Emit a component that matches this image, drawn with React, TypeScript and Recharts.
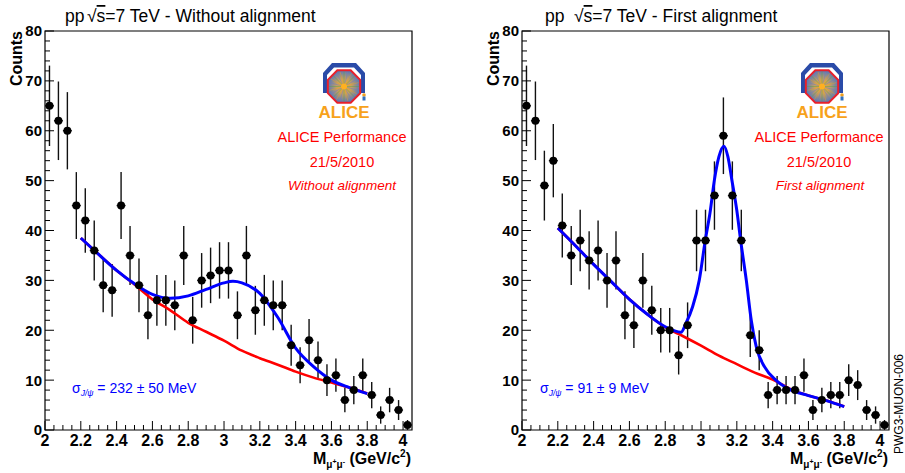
import React from 'react';
import { ComposedChart, Scatter, Line, XAxis, YAxis, ErrorBar, ReferenceArea } from 'recharts';

// bin centres of the dimuon invariant mass histogram (GeV/c^2), 50 MeV bins
const massBins = [
  2.025, 2.075, 2.125, 2.175, 2.225, 2.275, 2.325, 2.375, 2.425, 2.475,
  2.525, 2.575, 2.625, 2.675, 2.725, 2.775, 2.825, 2.875, 2.925, 2.975,
  3.025, 3.075, 3.125, 3.175, 3.225, 3.275, 3.325, 3.375, 3.425, 3.475,
  3.525, 3.575, 3.625, 3.675, 3.725, 3.775, 3.825, 3.875, 3.925, 3.975, 4.025,
];

const countsNoAlign = [
  65, 62, 60, 45, 42, 36, 29, 28, 45, 35,
  29, 23, 26, 26, 25, 35, 22, 30, 31, 32,
  32, 23, 35, 24, 26, 25, 25, 17, 13, 18,
  14, 10, 11, 6, 8, 11, 7, 3, 6, 4, 1,
];

const countsFirstAlign = [
  65, 62, 49, 54, 41, 35, 38, 34, 36, 30,
  34, 23, 21, 30, 24, 20, 20, 15, 21, 38,
  38, 47, 59, 47, 38, 19, 16, 7, 8, 8,
  8, 11, 4, 6, 7, 7, 10, 9, 4, 3, 1,
];

// fit curves
const noAlignFitX = [2.2, 2.3, 2.4, 2.5, 2.6, 2.7, 2.8, 2.9, 3.0, 3.05, 3.1, 3.2, 3.3, 3.4, 3.5, 3.6, 3.7, 3.8];
const noAlignFit = [38.5, 35.2, 32.0, 29.3, 27.2, 26.4, 26.9, 28.2, 29.5, 29.8, 29.5, 27.4, 22.6, 16.4, 12.7, 10.0, 8.5, 7.3];
const noAlignBkgX = [2.2, 2.3, 2.4, 2.5, 2.6, 2.7, 2.8, 2.9, 3.0, 3.1, 3.2, 3.3, 3.4, 3.5, 3.6, 3.7, 3.8];
const noAlignBkg = [38.5, 35.2, 32.0, 29.2, 26.2, 24.0, 21.5, 19.7, 17.9, 15.9, 14.4, 13.1, 11.7, 10.5, 9.5, 8.5, 7.3];

const firstAlignFitX = [
  2.2, 2.3, 2.4, 2.5, 2.6, 2.7, 2.8, 2.85, 2.888, 2.916, 2.953, 2.99, 3.024, 3.05, 3.075,
  3.1, 3.128, 3.15, 3.172, 3.2, 3.221, 3.253, 3.281, 3.309, 3.356, 3.421, 3.487, 3.6, 3.7, 3.8,
];
const firstAlignFit = [
  40.5, 36.9, 33.2, 29.7, 26.2, 23.2, 20.7, 19.9, 19.6, 21.4, 24.7, 30.0, 38.1, 43.5, 50.2,
  54.8, 56.9, 54.8, 50.2, 44.0, 38.1, 30.0, 21.9, 16.6, 12.6, 9.9, 8.3, 6.9, 5.9, 4.7,
];
const firstAlignBkgX = [2.2, 2.3, 2.4, 2.5, 2.6, 2.7, 2.8, 2.9, 3.0, 3.1, 3.2, 3.3, 3.4, 3.5, 3.6, 3.7, 3.8];
const firstAlignBkg = [40.5, 36.9, 33.2, 29.7, 26.2, 23.2, 20.6, 18.8, 16.9, 14.9, 13.2, 11.5, 10.1, 8.2, 6.9, 5.9, 4.7];

const xTickLabels = ['2', '2.2', '2.4', '2.6', '2.8', '3', '3.2', '3.4', '3.6', '3.8', '4'];
const yTickLabels = ['0', '10', '20', '30', '40', '50', '60', '70', '80'];

const FONT = '"Liberation Sans", Arial, Helvetica, sans-serif';
const BLUE = '#0000ff';
const RED = '#ff0000';

const yTicks = Array.from({ length: 41 }, (_, i) => i * 2);
const xTicks = Array.from({ length: 41 }, (_, i) => (200 + i * 5) / 100);

function YTick(props: any) {
  const { x, y, payload } = props;
  const v = payload.value;
  const major = v % 10 === 0;
  return (
    <g>
      <line x1={x} x2={x + (major ? 9 : 5)} y1={y} y2={y} stroke="#000" />
      {major && (
        <text x={x - 3} y={y} dy="0.36em" textAnchor="end" fontFamily={FONT} fontWeight="bold" fontSize={15} fill="#000">
          {yTickLabels[v / 10]}
        </text>
      )}
    </g>
  );
}

function XTick(props: any) {
  const { x, y, payload } = props;
  const v = payload.value;
  const k = Math.round((v - 2) * 5);
  const major = Math.abs((v - 2) * 5 - k) < 1e-6;
  return (
    <g>
      <line x1={x} x2={x} y1={y} y2={y - (major ? 9 : 5)} stroke="#000" />
      {major && (
        <text x={x} y={y + 16} textAnchor="middle" fontFamily={FONT} fontWeight="bold" fontSize={16} fill="#000">
          {xTickLabels[k]}
        </text>
      )}
    </g>
  );
}

const Dot = (p: any) => <circle cx={p.cx} cy={p.cy} r={4} fill="#000" />;

function Panel({ counts, fitX, fit, bkgX, bkg, width, right }: any) {
  const points = massBins.map((m, i) => ({ x: m, y: counts[i], ey: Math.sqrt(counts[i]), ex: 0.025 }));
  const total = fitX.map((m: number, i: number) => ({ x: m, y: fit[i] }));
  const background = bkgX.map((m: number, i: number) => ({ x: m, y: bkg[i] }));
  return (
    <ComposedChart width={width} height={473} margin={{ top: 31, right, bottom: 0, left: 0 }}>
      <XAxis
        dataKey="x"
        type="number"
        domain={[2, 4.05]}
        allowDataOverflow
        ticks={xTicks}
        interval={0}
        tick={<XTick />}
        tickSize={0}
        tickMargin={0}
        axisLine={false}
        tickLine={false}
        height={43}
      />
      <YAxis
        dataKey="y"
        type="number"
        domain={[0, 80]}
        allowDataOverflow
        ticks={yTicks}
        interval={0}
        tick={<YTick />}
        tickSize={0}
        tickMargin={0}
        axisLine={false}
        tickLine={false}
        width={45}
      />
      <Scatter data={points} dataKey="y" shape={Dot} isAnimationActive={false}>
        <ErrorBar dataKey="ey" direction="y" width={0} stroke="#111" strokeWidth={1.4} />
        <ErrorBar dataKey="ex" direction="x" width={0} stroke="#111" strokeWidth={1.4} />
      </Scatter>
      <Line data={background} dataKey="y" type="monotone" stroke={RED} strokeWidth={2.6} dot={false} isAnimationActive={false} />
      <Line data={total} dataKey="y" type="monotone" stroke={BLUE} strokeWidth={3} dot={false} isAnimationActive={false} />
      <ReferenceArea x1={2} x2={4.05} y1={0} y2={80} fill="none" stroke="#000" strokeWidth={1.2} />
    </ComposedChart>
  );
}

function Logo({ cx }: { cx: number }) {
  const cy = 86.5;
  const r = 17.5;
  const oct = Array.from({ length: 8 }, (_, k) => {
    const a = ((22.5 + 45 * k) * Math.PI) / 180;
    return `${cx + r * Math.cos(a)},${cy + r * Math.sin(a)}`;
  }).join(' ');
  const rays = Array.from({ length: 24 }, (_, k) => (k * 15 * Math.PI) / 180);
  return (
    <g>
      <path
        d={`M${cx - 21},93 L${cx - 21},73 L${cx - 12},63 L${cx + 12},63 L${cx + 21},73 L${cx + 21},93 L${cx + 17},93 L${cx + 17},75 L${cx + 10},67.5 L${cx - 10},67.5 L${cx - 17},75 L${cx - 17},93 Z`}
        fill="#2a4ba8"
      />
      <polygon points={oct} fill={`url(#burst${cx})`} stroke="#e8202a" strokeWidth={2} />
      {rays.map((a, k) => (
        <line
          key={k}
          x1={cx}
          y1={cy}
          x2={cx + 15 * Math.cos(a)}
          y2={cy + 15 * Math.sin(a)}
          stroke={k % 3 === 0 ? '#5aa04a' : k % 3 === 1 ? '#6a7ac8' : '#e0a030'}
          strokeWidth={0.7}
          opacity={0.7}
        />
      ))}
      <circle cx={cx} cy={cy} r={3} fill="#ffb020" />
      <circle cx={cx + 20} cy={95} r={1.8} fill="#f0a020" />
      <rect x={cx + 18.5} y={96.5} width={3} height={4} fill="#3070c0" />
      <defs>
        <radialGradient id={`burst${cx}`}>
          <stop offset="0%" stopColor="#ffb428" />
          <stop offset="45%" stopColor="#c8a060" />
          <stop offset="100%" stopColor="#5a78b8" />
        </radialGradient>
      </defs>
      <text x={cx} y={118} textAnchor="middle" fontFamily={FONT} fontWeight="bold" fontSize={17} fill="#f7a21b">
        ALICE
      </text>
    </g>
  );
}

function Sigma({ x, value }: { x: number; value: string }) {
  return (
    <text x={x} y={393} fontFamily={FONT} fontSize={14} fill={BLUE}>
      σ
      <tspan fontSize={8.5} dy={3} fontStyle="italic">J/ψ</tspan>
      <tspan dy={-3}>{value}</tspan>
    </text>
  );
}

function Overlay() {
  const t = { fontFamily: FONT, fill: '#000' };
  return (
    <svg width={905} height={473} style={{ position: 'absolute', left: 0, top: 0, pointerEvents: 'none' }}>
      {/* titles */}
      <text x={65} y={22} fontSize={17.5} {...t}>
        pp
        <tspan x={87}>√</tspan>
        <tspan style={{ textDecoration: 'overline' }}>s</tspan>
        =7 TeV - Without alignment
      </text>
      <text x={545} y={22} fontSize={17.5} {...t}>
        pp
        <tspan x={574}>√</tspan>
        <tspan style={{ textDecoration: 'overline' }}>s</tspan>
        =7 TeV - First alignment
      </text>

      {/* y titles */}
      <text transform="translate(22,31) rotate(-90)" textAnchor="end" fontSize={16} fontWeight="bold" {...t}>
        Counts
      </text>
      <text transform="translate(499,31) rotate(-90)" textAnchor="end" fontSize={16} fontWeight="bold" {...t}>
        Counts
      </text>

      {/* x titles */}
      {[411, 888].map((xr) => (
        <text key={xr} x={xr} y={464} textAnchor="end" fontSize={16} fontWeight="bold" {...t}>
          M
          <tspan fontSize={10} dy={4}>μ</tspan>
          <tspan fontSize={7} dy={-4}>+</tspan>
          <tspan fontSize={10} dy={4}>μ</tspan>
          <tspan fontSize={7} dy={-4}>-</tspan>
          <tspan fontSize={16} dy={0}> (GeV/c</tspan>
          <tspan fontSize={10} dy={-7}>2</tspan>
          <tspan fontSize={16} dy={7}>)</tspan>
        </text>
      ))}

      <Logo cx={344} />
      <Logo cx={822} />

      <g fontFamily={FONT} fill={RED} textAnchor="middle">
        <text x={342} y={142} fontSize={14.5}>ALICE Performance</text>
        <text x={342} y={167} fontSize={14.5}>21/5/2010</text>
        <text x={342} y={190} fontSize={13.5} fontStyle="italic">Without alignment</text>
        <text x={819} y={142} fontSize={14.5}>ALICE Performance</text>
        <text x={819} y={167} fontSize={14.5}>21/5/2010</text>
        <text x={820} y={190} fontSize={13.5} fontStyle="italic">First alignment</text>
      </g>

      <Sigma x={72} value=" = 232 ± 50 MeV" />
      <Sigma x={540} value=" = 91 ± 9 MeV" />

      <text transform="translate(903,454) rotate(-90)" fontSize={12} {...t}>
        PWG3-MUON-006
      </text>
    </svg>
  );
}

export default function App() {
  return (
    <div style={{ position: 'absolute', left: 0, top: 0, width: 905, height: 473, overflow: 'hidden', background: '#fff' }}>
      <div style={{ position: 'absolute', left: 0, top: 0 }}>
        <Panel counts={countsNoAlign} fitX={noAlignFitX} fit={noAlignFit} bkgX={noAlignBkgX} bkg={noAlignBkg} width={452} right={40} />
      </div>
      <div style={{ position: 'absolute', left: 477, top: 0 }}>
        <Panel counts={countsFirstAlign} fitX={firstAlignFitX} fit={firstAlignFit} bkgX={firstAlignBkgX} bkg={firstAlignBkg} width={428} right={16} />
      </div>
      <Overlay />
    </div>
  );
}
